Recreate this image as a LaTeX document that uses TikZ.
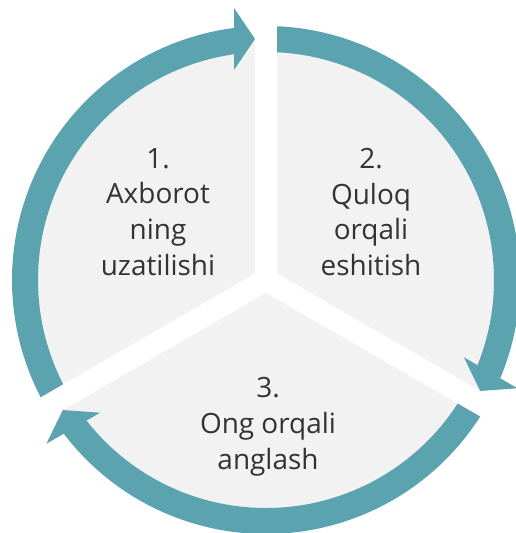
\documentclass[tikz,border=0pt]{standalone}
\usepackage{fontspec}
\setmainfont{Open Sans}
\definecolor{ringteal}{HTML}{5BA3AF}
\definecolor{sectorgray}{HTML}{F2F2F2}
\definecolor{labeltext}{HTML}{333333}

\begin{document}
\begin{tikzpicture}[x=0.02cm, y=0.02cm,
  ring/.style={line width=0.52cm, ringteal},
  gap/.style={line width=0.44cm, white},
  lbl/.style={align=center, text=labeltext, font=\fontsize{15.9}{20.4}\selectfont}]
\useasboundingbox (-266,-253) rectangle (250,280);
\fill[sectorgray] (0,0) circle (241);
\draw[ring] (210:241) arc (210:97:241);
\draw[ring] (90:241) arc (90:-23:241);
\draw[ring] (330:241) arc (330:217:241);
\foreach \a in {90,330,210}
  \fill[ringteal, rotate=\a] (241,11) -- (210,32) -- (272,32) -- cycle;
\foreach \a in {90,210,330}
  \draw[gap] (0,0) -- (\a:275);
\fill[white] (0,0) circle (12);
\node[lbl] (t1) at (-108,68) {1.\\Axborot\\ning\\uzatilishi};
\node[lbl] (t2) at (105,68) {2.\\Quloq\\orqali\\eshitish};
\node[lbl] (t3) at (2,-147) {3.\\Ong orqali\\anglash};
\end{tikzpicture}
\end{document}
